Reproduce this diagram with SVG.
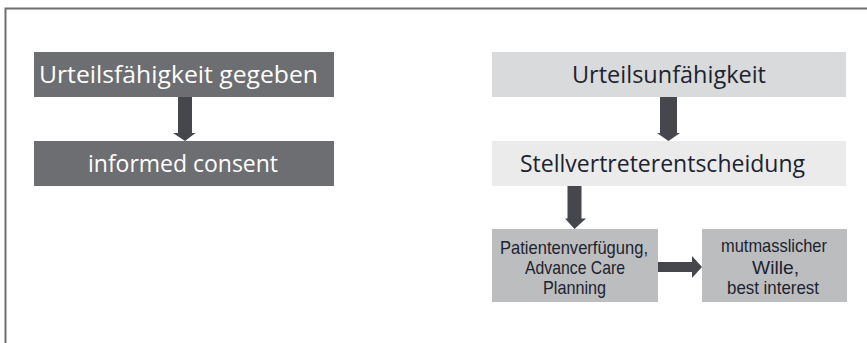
<svg xmlns="http://www.w3.org/2000/svg" width="867" height="343" viewBox="0 0 867 343">
  <style>
    .frame { fill: none; stroke: #6d6e71; stroke-width: 2; }
    .dark { fill: #6d6e71; }
    .light1 { fill: #d9dadb; }
    .light2 { fill: #ebebec; }
    .mid { fill: #bcbdbf; }
    .big { font-family: "Open Sans", "Noto Sans", sans-serif; font-size: 24.5px; }
    .small { font-family: "Liberation Sans", Arial, sans-serif; font-size: 17.8px; }
    .onDark { fill: #ffffff; }
    .onLight { fill: #1d2330; }
    .arrow { fill: #45474c; }
  </style>
  <rect x="0" y="0" width="867" height="343" fill="#ffffff"/>
  <!-- outer frame: top and left edges only -->
  <path class="frame" d="M5.5 343 V8.5 H867"/>

  <g id="connectors">
    <polygon class="arrow" points="178,97 192,97 192,133 195.5,133 185,141 173,133 178,133"/>
    <polygon class="arrow" points="660,97 677,97 677,133 680,133 668.5,141 657,133 660,133"/>
    <polygon class="arrow" points="567.5,186 581.5,186 581.5,218.5 586,218.5 574.5,229 565,218.5 567.5,218.5"/>
    <polygon class="arrow" points="658,262 692,262 692,256 702,267 692,278 692,272 658,272"/>
  </g>

  <g id="urteilsfaehigkeit-gegeben">
    <rect class="dark" x="34" y="52" width="300" height="45"/>
    <text class="big onDark" x="39" y="83" textLength="279" lengthAdjust="spacingAndGlyphs">Urteilsfähigkeit gegeben</text>
  </g>
  <g id="informed-consent">
    <rect class="dark" x="34" y="141" width="300" height="45"/>
    <text class="big onDark" x="88" y="172" textLength="190" lengthAdjust="spacingAndGlyphs">informed consent</text>
  </g>

  <g id="urteilsunfaehigkeit">
    <rect class="light1" x="492" y="52" width="354" height="45"/>
    <text class="big onLight" x="572" y="83" textLength="194" lengthAdjust="spacingAndGlyphs">Urteilsunfähigkeit</text>
  </g>
  <g id="stellvertreterentscheidung">
    <rect class="light2" x="492" y="141" width="354" height="45"/>
    <text class="big onLight" x="520" y="172" textLength="285" lengthAdjust="spacingAndGlyphs">Stellvertreterentscheidung</text>
  </g>

  <g id="patientenverfuegung">
    <rect class="mid" x="492" y="229" width="166" height="73"/>
    <text class="small onLight" x="500" y="254" textLength="148" lengthAdjust="spacingAndGlyphs">Patientenverfügung,</text>
    <text class="small onLight" x="525" y="274" textLength="100" lengthAdjust="spacingAndGlyphs">Advance Care</text>
    <text class="small onLight" x="543" y="294" textLength="63" lengthAdjust="spacingAndGlyphs">Planning</text>
  </g>
  <g id="mutmasslicher-wille">
    <rect class="mid" x="702" y="229" width="145" height="73"/>
    <text class="small onLight" x="721" y="252" textLength="106" lengthAdjust="spacingAndGlyphs">mutmasslicher</text>
    <text class="small onLight" x="752" y="274" textLength="47" lengthAdjust="spacingAndGlyphs">Wille,</text>
    <text class="small onLight" x="727" y="294" textLength="92" lengthAdjust="spacingAndGlyphs">best interest</text>
  </g>
</svg>
